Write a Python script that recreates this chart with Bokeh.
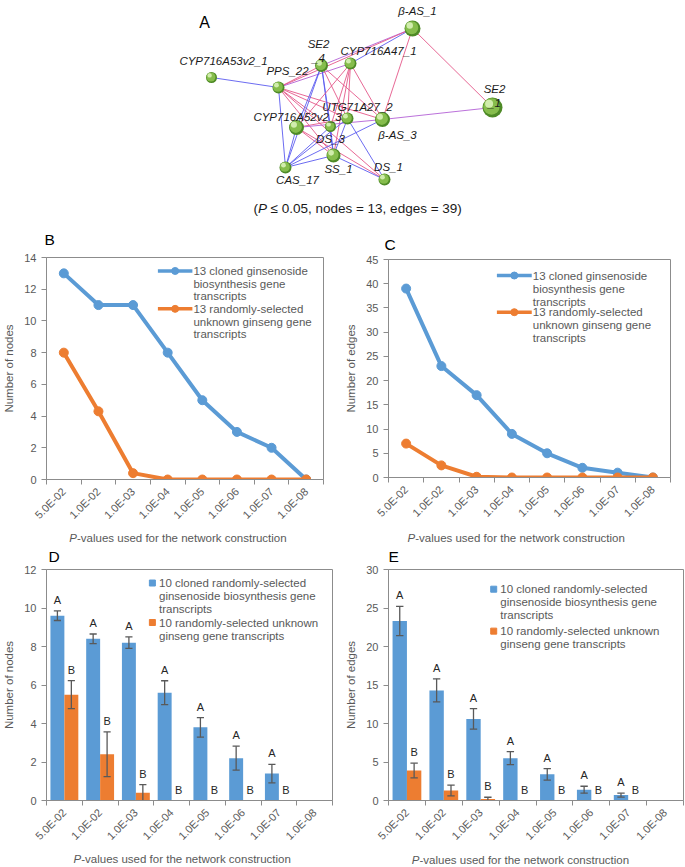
import numpy as np
from bokeh.plotting import figure
from bokeh.models import Range1d, FixedTicker, Label
from bokeh.layouts import column, row
from bokeh.embed import file_html
from bokeh.resources import INLINE
from bokeh.core.properties import value

# ------------------------------------------------------------------ data
pvalues = ["5.0E-02", "1.0E-02", "1.0E-03", "1.0E-04",
           "1.0E-05", "1.0E-06", "1.0E-07", "1.0E-08"]

# panel B: number of nodes
nodes_cloned = [13, 11, 11, 8, 5, 3, 2, 0]
nodes_random = [8, 4.3, 0.4, 0, 0, 0, 0, 0]
# panel C: number of edges
edges_cloned = [39, 23, 17, 9, 5, 2, 1, 0]
edges_random = [7, 2.5, 0.15, 0, 0, 0, 0, 0]
# panel D: sub-sampled number of nodes (mean, error)
sub_nodes_cloned = [9.6, 8.4, 8.2, 5.6, 3.8, 2.2, 1.4, 0]
sub_nodes_cloned_err = [0.25, 0.25, 0.3, 0.62, 0.51, 0.62, 0.48, 0]
sub_nodes_random = [5.5, 2.4, 0.4, 0, 0, 0, 0, 0]
sub_nodes_random_err = [0.73, 1.16, 0.42, 0, 0, 0, 0, 0]
# panel E: sub-sampled number of edges (mean, error)
sub_edges_cloned = [23.3, 14.3, 10.6, 5.5, 3.4, 1.4, 0.7, 0]
sub_edges_cloned_err = [1.9, 1.5, 1.33, 0.85, 0.75, 0.45, 0.25, 0]
sub_edges_random = [3.9, 1.3, 0.2, 0, 0, 0, 0, 0]
sub_edges_random_err = [0.95, 0.7, 0.22, 0, 0, 0, 0, 0]
letters_cloned = ["A", "A", "A", "A", "A", "A", "A", ""]
letters_random = ["B", "B", "B", "B", "B", "B", "B", ""]

legend_lines_full = [["13 cloned ginsenoside", "biosynthesis gene", "transcripts"],
                     ["13 randomly-selected", "unknown ginseng gene", "transcripts"]]
legend_bars = [["10 cloned randomly-selected", "ginsenoside biosynthesis gene", "transcripts"],
               ["10 randomly-selected unknown", "ginseng gene transcripts"]]
x_title_italic = "P"
x_title_rest = "-values used for the network construction"
caption_parts = ["(", "P", "≤ 0.05, nodes = 13, edges = 39)"]

# panel A: network (layout positions of the 13 genes)
node_names = ["β-AS_1", "CYP716A47_1", "SE2_4", "CYP716A53v2_1", "PPS_22", "SE2_1",
              "UTG71A27_2", "β-AS_3", "CYP716A52v2_3", "DS_3", "SS_1", "CAS_17", "DS_1"]
node_x = [412, 350, 321, 211, 278, 492, 347, 382, 296, 330, 333, 285, 384]
node_y = [28, 63, 65, 77, 87, 107, 118, 119, 127, 126, 155, 167, 179]
node_size = [16, 12, 13, 11, 12, 20, 12, 15, 15, 11, 14, 12, 12]
node_labels = ["β-AS_1", "CYP716A47_1", "SE2\n_4", "CYP716A53v2_1", "PPS_22", "SE2\n_1",
               "UTG71A27_2", "β-AS_3", "CYP716A52v2_3", "DS_3", "SS_1", "CAS_17", "DS_1"]
label_dx = [5, 28, -3, 12, 9, 2, 10, 15, 1, 0, 5, 12, 4]
label_dy = [-18, -13, -14.5, -17, -17, -11.5, -12, 15, -11, 12, 13, 12, -13]
edges = [
    ("β-AS_1", "SE2_4", "p"), ("β-AS_1", "CYP716A47_1", "b"), ("β-AS_1", "PPS_22", "r"),
    ("β-AS_1", "β-AS_3", "r"), ("β-AS_1", "SE2_1", "r"), ("SE2_1", "β-AS_3", "p"),
    ("CYP716A53v2_1", "PPS_22", "b"), ("PPS_22", "SE2_4", "r"), ("PPS_22", "CYP716A47_1", "p"),
    ("PPS_22", "CAS_17", "b"), ("PPS_22", "SS_1", "r"), ("PPS_22", "DS_1", "r"),
    ("PPS_22", "β-AS_3", "r"), ("PPS_22", "UTG71A27_2", "r"), ("PPS_22", "DS_3", "r"),
    ("SE2_4", "CYP716A52v2_3", "b"), ("SE2_4", "DS_3", "b"), ("SE2_4", "SS_1", "b"),
    ("SE2_4", "UTG71A27_2", "r"), ("SE2_4", "β-AS_3", "r"), ("SE2_4", "CAS_17", "b"),
    ("CYP716A47_1", "CYP716A52v2_3", "r"), ("CYP716A47_1", "DS_3", "r"),
    ("CYP716A47_1", "SS_1", "r"), ("CYP716A47_1", "UTG71A27_2", "r"),
    ("CYP716A47_1", "β-AS_3", "r"), ("CYP716A52v2_3", "UTG71A27_2", "r"),
    ("CYP716A52v2_3", "β-AS_3", "p"), ("CYP716A52v2_3", "CAS_17", "b"),
    ("CYP716A52v2_3", "SS_1", "r"), ("CYP716A52v2_3", "DS_1", "r"),
    ("DS_3", "CAS_17", "b"), ("DS_3", "SS_1", "b"), ("UTG71A27_2", "SS_1", "b"),
    ("UTG71A27_2", "CAS_17", "b"), ("UTG71A27_2", "DS_1", "b"), ("β-AS_3", "CAS_17", "b"),
    ("SS_1", "CAS_17", "b"), ("SS_1", "DS_1", "b"),
]

# ------------------------------------------------------------------ style
FONT = "Liberation Sans"
GRAY = "#595959"
AXIS = "#8c8c8c"
BLUE = "#5B9BD5"
ORANGE = "#ED7D31"
EDGE_COLORS = {"r": "#e4588a", "b": "#5c5cf0", "p": "#b462d6"}
N = len(pvalues)
centers = [i + 0.5 for i in range(N)]


def strip(width, height):
    s = figure(width=width, height=height, x_range=Range1d(0, width),
               y_range=Range1d(height, 0), output_backend="svg", toolbar_location=None,
               x_axis_type=None, y_axis_type=None, min_border=0)
    s.frame_align = False
    s.xgrid.visible = False
    s.ygrid.visible = False
    s.outline_line_color = None
    return s


def header(width, height, x, y, letter):
    s = strip(width, height)
    s.text([x], [y], text=[letter], text_align="left", text_baseline="middle",
           text_font=value(FONT), text_font_size="15.5px", text_color="black")
    return s


def footer(width, height, x, y):
    s = strip(width, height)
    st = dict(text_baseline="middle", text_font=value(FONT), text_font_size="11.5px",
              text_color=GRAY)
    s.text([x], [y], text=[x_title_italic], text_align="right", text_font_style="italic", **st)
    s.text([x], [y], text=[x_title_rest], text_align="left", **st)
    return s


class Panel:
    def __init__(self, width, height, bl, br, bt, bb, ymax, ystep, ylabel):
        self.fw = width - bl - br
        self.fh = height - bt - bb
        self.ymax = ymax
        p = figure(width=width, height=height, x_range=Range1d(0, N), y_range=Range1d(0, ymax),
                   output_backend="svg", toolbar_location=None,
                   min_border_left=bl, min_border_right=br, min_border_top=bt,
                   min_border_bottom=bb)
        p.frame_align = False
        p.xgrid.visible = False
        p.ygrid.visible = False
        p.outline_line_color = AXIS
        p.outline_line_width = 1
        xa = p.xaxis[0]
        xa.ticker = FixedTicker(ticks=centers, minor_ticks=list(range(N + 1)))
        xa.major_label_overrides = {c: lab for c, lab in zip(centers, pvalues)}
        xa.major_label_orientation = np.pi / 4
        xa.major_tick_line_color = None
        xa.major_tick_out = 0
        xa.major_tick_in = 0
        xa.minor_tick_line_color = AXIS
        xa.minor_tick_out = 5
        xa.minor_tick_in = 0
        xa.major_label_standoff = 5
        xa.axis_line_color = AXIS
        xa.major_label_text_font = FONT
        xa.major_label_text_font_size = "11px"
        xa.major_label_text_color = GRAY
        ya = p.yaxis[0]
        ya.ticker = FixedTicker(ticks=list(range(0, ymax + 1, ystep)), minor_ticks=[])
        ya.major_tick_out = 5
        ya.major_tick_in = 0
        ya.major_tick_line_color = AXIS
        ya.minor_tick_line_color = None
        ya.axis_line_color = AXIS
        ya.major_label_standoff = 5
        ya.major_label_text_font = FONT
        ya.major_label_text_font_size = "11px"
        ya.major_label_text_color = GRAY
        ya.axis_label = ylabel
        ya.axis_label_text_font = FONT
        ya.axis_label_text_font_size = "11.5px"
        ya.axis_label_text_font_style = "normal"
        ya.axis_label_text_color = GRAY
        ya.axis_label_standoff = 6
        self.p = p

    def dx(self, px):
        return px / self.fw * N

    def dy(self, py):
        return self.ymax - py / self.fh * self.ymax

    def label(self, px, py, text):
        self.p.add_layout(Label(x=self.dx(px), y=self.dy(py), text=text,
                                text_font=FONT, text_font_size="11.5px", text_color=GRAY,
                                text_align="left", text_baseline="middle"))

    def line_legend(self, sx0, sx1, tx, ys):
        for k, (col, lines) in enumerate(zip([BLUE, ORANGE], legend_lines_full)):
            y = self.dy(ys[k][0])
            self.p.line([self.dx(sx0), self.dx(sx1)], [y, y], line_color=col, line_width=3.5)
            self.p.scatter([self.dx((sx0 + sx1) / 2)], [y], size=7, color=col)
            for t, yy in zip(lines, ys[k]):
                self.label(tx, yy, t)

    def bar_legend(self, sx, tx, ys):
        for k, (col, lines) in enumerate(zip([BLUE, ORANGE], legend_bars)):
            self.p.scatter([self.dx(sx)], [self.dy(ys[k][0])], size=6, marker="square",
                           color=col)
            for t, yy in zip(lines, ys[k]):
                self.label(tx, yy, t)


def line_chart(panel, blue_vals, orange_vals):
    p = panel.p
    p.line(centers, blue_vals, line_color=BLUE, line_width=4)
    p.scatter(centers, blue_vals, size=9, color=BLUE)
    p.line(centers, orange_vals, line_color=ORANGE, line_width=4)
    p.scatter(centers, orange_vals, size=9, color=ORANGE)


def bar_chart(panel, bv, be, ov, oe):
    p = panel.p
    off, w, cap = 0.195, 0.39, 0.1
    for vals, errs, col, sign, letters in ((bv, be, BLUE, -1, letters_cloned),
                                           (ov, oe, ORANGE, 1, letters_random)):
        x = np.array(centers) + sign * off
        v = np.array(vals, dtype=float)
        e = np.array(errs, dtype=float)
        p.vbar(x=x, top=v, width=w, bottom=0, fill_color=col, line_color=None)
        m = e > 0
        p.segment(x[m], v[m] - e[m], x[m], v[m] + e[m], line_color=GRAY, line_width=1.3)
        p.segment(x[m] - cap, v[m] + e[m], x[m] + cap, v[m] + e[m], line_color=GRAY,
                  line_width=1.3)
        p.segment(x[m] - cap, v[m] - e[m], x[m] + cap, v[m] - e[m], line_color=GRAY,
                  line_width=1.3)
        p.text(x, v + e, text=letters, y_offset=-5, text_align="center",
               text_baseline="bottom", text_font=value(FONT), text_font_size="11px",
               text_color="#262626")


# ------------------------------------------------------------------ panel A
pa = figure(width=685, height=224, x_range=Range1d(0, 685), y_range=Range1d(224, 0),
            output_backend="svg", toolbar_location=None, x_axis_type=None, y_axis_type=None,
            min_border=0)
pa.frame_align = False
pa.xgrid.visible = False
pa.ygrid.visible = False
pa.outline_line_color = None
idx = {n: i for i, n in enumerate(node_names)}
pa.segment([node_x[idx[a]] for a, b, c in edges], [node_y[idx[a]] for a, b, c in edges],
           [node_x[idx[b]] for a, b, c in edges], [node_y[idx[b]] for a, b, c in edges],
           line_color=[EDGE_COLORS[c] for a, b, c in edges], line_width=1, line_alpha=0.9)
ns = np.array(node_size, dtype=float)
nx = np.array(node_x, dtype=float)
ny = np.array(node_y, dtype=float)
pa.scatter(nx, ny, size=ns, fill_color="#4e8a26", line_color=None)
pa.scatter(nx - ns * 0.05, ny - ns * 0.05, size=ns * 0.82, fill_color="#86bd4c", line_color=None)
pa.scatter(nx - ns * 0.17, ny - ns * 0.19, size=ns * 0.4, fill_color="#d9f2b8",
           line_color=None, fill_alpha=0.9)
pa.text([x + d for x, d in zip(node_x, label_dx)], [y + d for y, d in zip(node_y, label_dy)],
        text=node_labels, text_align="center", text_baseline="middle",
        text_font=value(FONT), text_font_size="11.5px", text_font_style="italic",
        text_color="#1a1a1a")
pa.text([204], [22], text=["A"], text_align="center", text_baseline="middle",
        text_font=value(FONT), text_font_size="16px", text_color="black")
cap_style = dict(text_baseline="middle", text_font=value(FONT), text_font_size="13.5px",
                 text_color="#1a1a1a", text_align="left")
pa.text([253], [208], text=[caption_parts[0]], **cap_style)
pa.text([257.5], [208], text=[caption_parts[1]], text_font_style="italic", **cap_style)
pa.text([270], [208], text=[caption_parts[2]], **cap_style)

# ------------------------------------------------------------------ panels B-E
pb = Panel(342, 277, 42, 19, 6, 45, 14, 2, "Number of nodes")
line_chart(pb, nodes_cloned, nodes_random)
pb.line_legend(113, 148, 149, [[13.7, 26.6, 39.5], [52.3, 65.2, 78.1]])
col_b = column(header(342, 27, 44, 14.5, "B"), pb.p, footer(342, 18, 76.5, 9))

pc = Panel(343, 275, 40, 15, 6, 51, 45, 5, "Number of edges")
line_chart(pc, edges_cloned, edges_random)
pc.line_legend(110.7, 146.3, 147.3, [[16, 29, 42], [52.7, 65.7, 78.7]])
col_c = column(header(343, 29, 42, 19.5, "C"), pc.p, footer(343, 18, 72.7, 9))

pd = Panel(342, 284, 43, 10, 4, 46, 12, 2, "Number of nodes")
bar_chart(pd, sub_nodes_cloned, sub_nodes_cloned_err, sub_nodes_random, sub_nodes_random_err)
pd.bar_legend(107, 113.7, [[13.7, 27, 40.3], [53.7, 67]])
col_d = column(header(342, 19, 48, 10, "D"), pd.p, footer(342, 18, 80.7, 9))

pe = Panel(343, 284, 41, 2, 4, 42, 30, 5, "Number of edges")
bar_chart(pe, sub_edges_cloned, sub_edges_cloned_err, sub_edges_random, sub_edges_random_err)
pe.bar_legend(107, 113.7, [[20.3, 33.6, 46.9], [63.5, 76.8]])
col_e = column(header(343, 19, 46, 10, "E"), pe.p, footer(343, 18, 77, 10.5))

layout = column(pa, row(col_b, col_c), row(col_d, col_e))
open("out.html", "w").write(file_html(layout, INLINE))
